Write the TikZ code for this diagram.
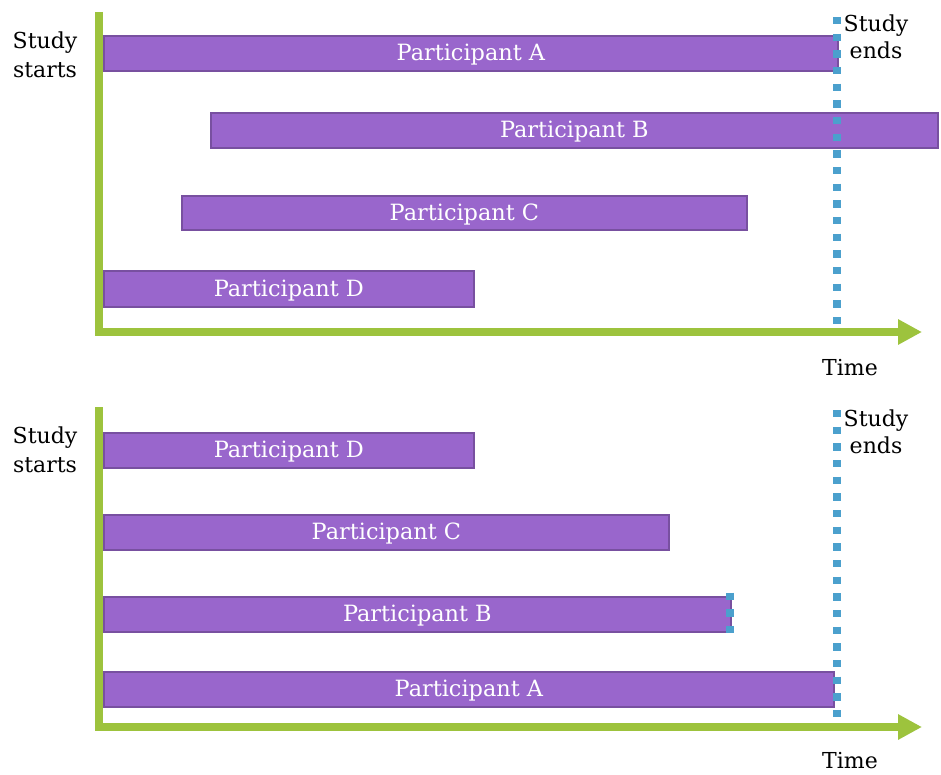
\documentclass[tikz,border=0pt]{standalone}
\usepackage{fontspec}
\setmainfont{DejaVu Serif}
\usetikzlibrary{arrows.meta}
\definecolor{barfill}{RGB}{153,102,204}
\definecolor{bardraw}{RGB}{120,80,160}
\definecolor{axisgreen}{RGB}{157,195,61}
\definecolor{dotblue}{RGB}{75,160,205}
\tikzset{
  pbar/.style={draw=bardraw, fill=barfill, line width=1.3pt, rectangle, inner sep=0pt, anchor=north west,
    text=white, font=\fontsize{16.8}{19}\selectfont, text height=14pt, text depth=3pt},
  axisline/.style={draw=axisgreen, line width=6pt, line join=miter,
    -{Triangle[length=18pt,width=18pt]}},
  dotline/.style={draw=dotblue, line width=6pt, line cap=butt, dash pattern=on 5.6pt off 6.9pt},
  lbl/.style={align=center, font=\fontsize{16.5}{22}\selectfont, inner sep=0pt}
}
\begin{document}
\begin{tikzpicture}[x=0.75pt,y=-0.75pt]
\useasboundingbox (0,0) rectangle (941,774);
% ---------- top panel ----------
\coordinate (t0) at (99,12);
\coordinate (tc) at (99,332);
\coordinate (te) at (922,332);
\coordinate (td1) at (837,17);
\coordinate (td2) at (837,330);
\node[pbar, minimum width=0.75pt*734, minimum height=0.75pt*35] (tA) at (103,35) {Participant A};
\node[pbar, minimum width=0.75pt*727, minimum height=0.75pt*35] (tB) at (210,112) {Participant B};
\node[pbar, minimum width=0.75pt*565, minimum height=0.75pt*34] (tC) at (181,195) {Participant C};
\node[pbar, minimum width=0.75pt*370, minimum height=0.75pt*36] (tD) at (103,270) {Participant D};
\draw[dotline] (td1) -- (td2);
\draw[axisline] (t0) -- (tc) -- (te);
\node[lbl] (tstart) at (45,55) {Study\\starts};
\node[lbl] (tend) at (876,37) {Study\\[-2pt]ends};
\node[lbl] (ttime) at (850,368) {Time};
% ---------- bottom panel ----------
\coordinate (b0) at (99,407);
\coordinate (bc) at (99,727);
\coordinate (be) at (922,727);
\coordinate (bd1) at (837,410);
\coordinate (bd2) at (837,725);
\coordinate (bb1) at (730,592.5);
\coordinate (bb2) at (730,634.5);
\node[pbar, minimum width=0.75pt*370, minimum height=0.75pt*35] (bD) at (103,432) {Participant D};
\node[pbar, minimum width=0.75pt*565, minimum height=0.75pt*35] (bC) at (103,514) {Participant C};
\node[pbar, minimum width=0.75pt*627, minimum height=0.75pt*35] (bB) at (103,596) {Participant B};
\node[pbar, minimum width=0.75pt*730, minimum height=0.75pt*35] (bA) at (103,671) {Participant A};
\draw[dotline] (bd1) -- (bd2);
\draw[dotline] (bb1) -- (bb2);
\draw[axisline] (b0) -- (bc) -- (be);
\node[lbl] (bstart) at (45,450) {Study\\starts};
\node[lbl] (bend) at (876,432) {Study\\[-2pt]ends};
\node[lbl] (btime) at (850,761) {Time};
\end{tikzpicture}
\end{document}
